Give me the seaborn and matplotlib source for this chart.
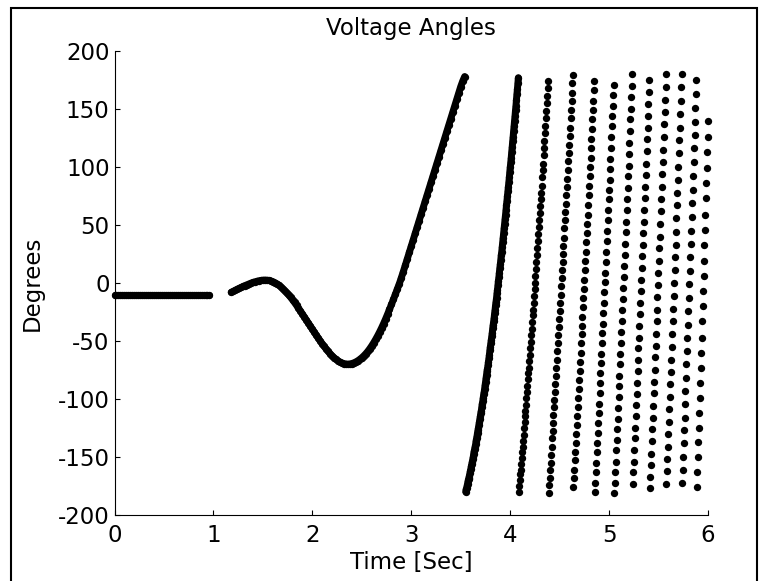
import numpy as np
import pandas as pd
import matplotlib
matplotlib.use("Agg")
import matplotlib.pyplot as plt
import seaborn as sns
from matplotlib.patches import Rectangle

# pre-fault steady angle (deg), sampled every 0.02 s from t=0
pre_t0 = 0.0
pre_dt = 0.02
pre_deg = [-10.0] * 49

# post-fault swing (deg), sampled every 0.02 s from t=1.18
swing_t0 = 1.18
swing_dt = 0.02
swing_deg = [
    -8.0, -7.2, -6.3, -5.4, -4.6, -3.8, -3.0, -2.2, -1.5, -0.8,
    -0.1, 0.5, 1.0, 1.5, 1.9, 2.2, 2.4, 2.5, 2.4, 2.2,
    1.8, 1.2, 0.4, -0.6, -1.8, -3.2, -4.8, -6.5, -8.3, -10.2,
    -12.3, -14.5, -16.8, -19.2, -21.7, -24.2, -26.8, -29.4, -32.0, -34.6,
    -37.2, -39.8, -42.4, -45.0, -47.5, -50.0, -52.4, -54.7, -56.9, -59.0,
    -61.0, -62.8, -64.4, -65.9, -67.1, -68.1, -68.9, -69.5, -69.8, -70.0,
    -69.8, -69.4, -68.8, -68.0, -67.0, -65.8, -64.4, -62.8, -61.0, -59.0,
    -56.7, -54.2, -51.5, -48.6, -45.5, -42.2, -38.7, -35.0, -31.1, -27.0,
    -22.8, -18.5, -14.1, -9.6, -5.0, -0.5, 4.6, 9.9, 15.3, 20.8,
    26.3, 31.8, 37.3, 42.8, 48.3, 53.8, 59.3, 64.8, 70.3, 75.8,
    81.3, 86.8, 92.3, 97.8, 103.3, 108.8, 114.3, 119.8, 125.3, 130.8,
    136.3, 141.8, 147.3, 152.8, 158.3, 163.8, 169.3, 174.0, 178.0,
]

# pole slipping: wrapped angle (deg), one list per turn, sampled every 0.0048 s from t=3.55
slip_t0 = 3.55
slip_dt = 0.0048
turn1 = [-180, -178, -177, -175, -173, -171, -169, -168, -166, -164, -162, -160, -158, -156,
         -154, -152, -150, -147, -145, -143, -141, -139, -136, -134, -132, -129, -127, -125,
         -122, -120, -117, -115, -112, -110, -107, -104, -102, -99, -96, -94, -91, -88, -85,
         -82, -79, -76, -74, -71, -68, -65, -62, -58, -55, -52, -49, -46, -43, -39, -36, -33,
         -30, -26, -23, -19, -16, -13, -9, -6, -2, 2, 5, 9, 13, 16, 20, 24, 27, 31, 35, 39,
         43, 47, 51, 55, 59, 63, 67, 71, 75, 79, 83, 87, 91, 96, 100, 104, 108, 113, 117, 122,
         126, 131, 135, 140, 144, 149, 153, 158, 163, 167, 172, 177]
turn2 = [-180, -175, -170, -165, -161, -156, -151, -146, -141, -136, -131, -125, -120, -115,
         -110, -105, -99, -94, -89, -83, -78, -73, -67, -62, -56, -51, -45, -40, -34, -28, -23,
         -17, -11, -5, 0, 6, 12, 18, 24, 30, 36, 42, 48, 54, 60, 66, 72, 78, 84, 91, 97, 103,
         110, 116, 122, 129, 135, 142, 148, 155, 161, 168, 174]
turn3 = [-181, -174, -168, -161, -155, -148, -141, -134, -128, -121, -114, -107, -101, -94,
         -87, -80, -73, -66, -59, -52, -45, -38, -31, -24, -17, -10, -3, 4, 11, 18, 25, 32, 39,
         47, 54, 61, 68, 76, 83, 90, 97, 105, 112, 119, 127, 134, 142, 149, 157, 164, 172, 179]
turn4 = [-176, -168, -161, -153, -146, -138, -130, -122, -115, -107, -99, -91, -84, -76, -68,
         -60, -52, -44, -37, -29, -21, -13, -5, 3, 11, 19, 27, 35, 43, 51, 59, 67, 76, 84, 92,
         100, 108, 116, 124, 133, 141, 149, 157, 166, 174]
turn5 = [-180, -172, -163, -155, -146, -138, -129, -121, -112, -104, -95, -86, -78, -69, -61,
         -52, -43, -35, -26, -17, -8, 1, 9, 18, 27, 36, 45, 54, 63, 72, 80, 89, 98, 107, 116,
         126, 135, 144, 153, 162, 171]
turn6 = [-181, -172, -163, -154, -144, -135, -126, -117, -108, -98, -89, -80, -70, -61, -52,
         -42, -33, -23, -14, -4, 5, 15, 24, 34, 44, 53, 63, 72, 82, 92, 101, 111, 121, 131, 141,
         150, 160, 170, 180]
turn7 = [-173, -163, -154, -144, -134, -125, -115, -105, -96, -86, -76, -66, -56, -47, -37,
         -27, -17, -7, 3, 13, 23, 33, 43, 53, 63, 73, 83, 93, 103, 114, 124, 134, 144, 154, 165,
         175]
turn8 = [-177, -167, -157, -147, -136, -126, -116, -106, -95, -85, -75, -64, -54, -44, -33,
         -23, -12, -2, 9, 19, 30, 40, 51, 62, 72, 83, 94, 104, 115, 126, 137, 147, 158, 169, 180]
turn9 = [-173, -162, -152, -141, -130, -120, -109, -98, -87, -77, -66, -55, -44, -33, -22, -11,
         0, 11, 22, 33, 44, 56, 67, 78, 89, 100, 112, 123, 134, 146, 157, 169, 180]
turn10 = [-172, -161, -150, -138, -127, -116, -104, -93, -82, -70, -59, -47, -36, -24, -13, -1,
          10, 22, 34, 45, 57, 69, 80, 92, 104, 116, 128, 139, 151, 163, 175]
turn11 = [-176, -163, -150, -137, -125, -112, -99, -86, -73, -60, -47, -33, -20, -7, 6, 19, 33,
          46, 59, 73, 86, 99, 113, 126, 140]
slip_deg = (turn1 + turn2 + turn3 + turn4 + turn5 + turn6 + turn7 + turn8 + turn9
            + turn10 + turn11)

x_ticks = [0, 1, 2, 3, 4, 5, 6]
y_ticks = [-200, -150, -100, -50, 0, 50, 100, 150, 200]

# time axes for each record
pre_t = pre_t0 + pre_dt * np.arange(len(pre_deg))
swing_t = swing_t0 + swing_dt * np.arange(len(swing_deg))
slip_t = slip_t0 + slip_dt * np.arange(len(slip_deg))

df = pd.DataFrame({
    "t": np.concatenate([pre_t, swing_t, slip_t]),
    "deg": np.concatenate([pre_deg, swing_deg, slip_deg]),
})

sns.set_style("ticks")
plt.rcParams["axes.unicode_minus"] = False
plt.rcParams["font.family"] = ["DejaVu Sans"]

fig = plt.figure(figsize=(7.69, 5.81), dpi=100)
ax = fig.add_axes([114.5 / 769, 66 / 581, 593.5 / 769, 464 / 581])

# the densely sampled stretches read as a solid band of dots
dense = [(pre_t, pre_deg), (swing_t, swing_deg), (slip_t[:len(turn1)], turn1)]
for seg_t, seg_deg in dense:
    sns.lineplot(x=seg_t, y=seg_deg, color="black", linewidth=5.0, sort=False,
                 estimator=None, solid_capstyle="round", clip_on=False, ax=ax)

sns.scatterplot(data=df, x="t", y="deg", color="black", s=28, linewidth=0,
                clip_on=False, legend=False, ax=ax)

ax.set_xlim(0, 6)
ax.set_ylim(-200, 200)
ax.set_xticks(x_ticks)
ax.set_yticks(y_ticks)
ax.set_xticklabels([str(v) for v in x_ticks])
ax.set_yticklabels([str(v) for v in y_ticks])

fs = 16.5
ax.tick_params(direction="in", length=3.5, width=0.8, colors="black",
               labelsize=fs, top=False, right=False)
ax.tick_params(axis="x", pad=6.5)
ax.tick_params(axis="y", pad=3.5)
for side in ["top", "right"]:
    ax.spines[side].set_visible(False)
for side in ["left", "bottom"]:
    ax.spines[side].set_color("black")
    ax.spines[side].set_linewidth(0.8)

ax.set_title("Voltage Angles", fontsize=fs, color="black", pad=11.5)
ax.set_xlabel("Time [Sec]", fontsize=fs, color="black")
ax.set_ylabel("Degrees", fontsize=fs, color="black")
ax.xaxis.set_label_coords(0.5, -0.0776)
ax.yaxis.set_label_coords(-0.120, 0.5)

# figure frame
fig.patches.append(Rectangle((11 / 769, -0.02), (757 - 11) / 769, (581 - 8) / 581 + 0.02,
                             transform=fig.transFigure, fill=False, edgecolor="black",
                             linewidth=1.5, clip_on=False))

fig.savefig("out.png", dpi=100)
